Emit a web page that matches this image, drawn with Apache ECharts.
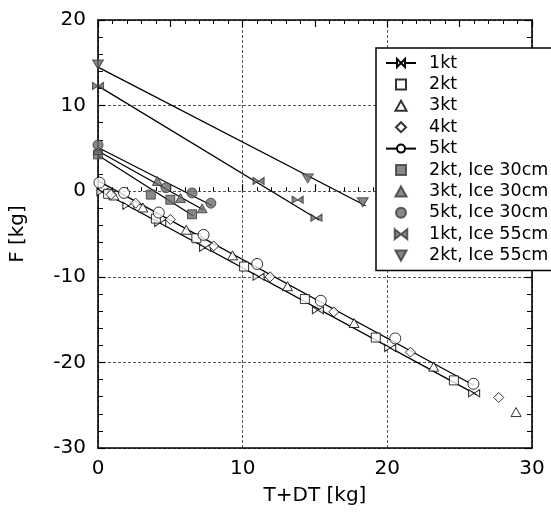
<!DOCTYPE html>
<html><head><meta charset="utf-8">
<script src="https://cdn.jsdelivr.net/npm/echarts@6/dist/echarts.min.js"></script>
<style>html,body{margin:0;padding:0;background:#fff}#c{width:551px;height:520px}</style>
</head><body><div id="c"></div>
<script>
// ---- data ----
const xTicks = [0, 10, 20, 30];
const yTicks = [-30, -20, -10, 0, 10, 20];
const legendNames = ['1kt','2kt','3kt','4kt','5kt','2kt, Ice 30cm','3kt, Ice 30cm','5kt, Ice 30cm','1kt, Ice 55cm','2kt, Ice 55cm'];

const kt1 = [[0.3,-0.1],[2.1,-1.7],[4.3,-3.7],[7.4,-6.6],[11.1,-10.0],[15.2,-13.9],[20.2,-18.3],[26.0,-23.6]];
const kt2 = [[0.7,-0.3],[4.0,-3.2],[6.8,-5.5],[10.1,-8.8],[14.3,-12.6],[19.2,-17.1],[24.6,-22.1]];
const kt3 = [[1.1,-0.5],[3.1,-1.9],[6.1,-4.5],[9.3,-7.5],[13.1,-11.1],[17.7,-15.4],[23.2,-20.5],[28.9,-25.8]];
const kt4 = [[0.9,-0.4],[2.6,-1.4],[5.0,-3.3],[8.0,-6.4],[11.9,-10.0],[16.3,-14.1],[21.6,-18.8],[27.7,-24.1]];
const kt5 = [[0.1,1.0],[1.8,-0.2],[4.2,-2.5],[7.3,-5.1],[11.0,-8.5],[15.4,-12.8],[20.55,-17.2],[25.95,-22.5]];

const kt2Ice30 = [[0,4.3],[3.65,-0.4],[5.0,-1.0],[6.5,-2.7]];
const kt3Ice30 = [[0,4.8],[4.1,1.2],[5.7,-0.8],[7.2,-2.0]];
const kt5Ice30 = [[0,5.4],[4.7,0.4],[6.5,-0.2],[7.8,-1.4]];
const kt1Ice55 = [[0,12.3],[11.1,1.2],[13.8,-1.0],[15.1,-3.1]];
const kt2Ice55 = [[0,14.8],[14.5,1.5],[18.3,-1.3]];

const fit1kt = [[0,0.2],[26.2,-23.8]];
const fit5kt = [[0,1.2],[26.0,-22.7]];
const fit2Ice30 = [[0,4.2],[6.6,-2.9]];
const fit3Ice30 = [[0,4.7],[7.3,-2.2]];
const fit5Ice30 = [[0,5.1],[7.9,-1.7]];
const fit1Ice55 = [[0,12.3],[15.3,-3.4]];
const fit2Ice55 = [[0,14.5],[18.5,-1.7]];

// ---- styling ----
const FONT = 'DejaVu Sans';
const BOWTIE = 'path://M0,0 L5,4 L0,8 Z M10,0 L5,4 L10,8 Z';
const INVTRI = 'path://M0,0 L10,0 L5,9 Z';
const SQUARE = 'path://M0,0 L10,0 L10,10 L0,10 Z';
const TRI = 'path://M5,0 L10,9 L0,9 Z';
const DIAMOND = 'path://M5,0 L10,5 L5,10 L0,5 Z';
const CIRCLE = 'path://M0,5 A5,5 0 1 1 10,5 A5,5 0 1 1 0,5 Z';
const openStyle = {color:'#fff', borderColor:'#000', borderWidth:1};
const fillStyle = {color:'#6a6a6a', borderColor:'#3a3a3a', borderWidth:1};

function fitLine(data){
  return {type:'line', data, showSymbol:false, symbol:'none', silent:true,
    lineStyle:{color:'#000', width:1.3}, z:1, animation:false};
}
function scat(name, data, symbol, size, style){
  return {name, type:'scatter', data, symbol, symbolSize:size, symbolKeepAspect:true,
    itemStyle:style, z:3, animation:false};
}

const chart = echarts.init(document.getElementById('c'), null, {renderer:'canvas'});
const tickAxisCommon = {
  min:0, max:30, interval:5, axisLine:{show:false}, axisLabel:{show:false}, splitLine:{show:false},
  axisTick:{show:true, inside:true, length:7, lineStyle:{color:'#000', width:1.2}},
  minorTick:{show:true, splitNumber:5, length:4, lineStyle:{color:'#000', width:1}}
};
chart.setOption({
  animation:false,
  backgroundColor:'#fff',
  grid:{left:97, top:20, right:19, bottom:72, show:false},
  legend:{
    orient:'vertical', left:376, top:48, width:174,
    data:legendNames,
    backgroundColor:'#fff', borderColor:'#000', borderWidth:1.5, borderRadius:0,
    padding:[6,6,6,9], itemGap:3.4, itemWidth:30, itemHeight:10, symbolKeepAspect:true,
    textStyle:{fontFamily:FONT, fontSize:17.5, color:'#000', lineHeight:17.5, padding:[0,0,0,8]},
    selectedMode:false
  },
  xAxis:[
    {type:'value', min:0, max:30, interval:10, position:'bottom',
      name:'T+DT [kg]', nameLocation:'middle', nameGap:38,
      nameTextStyle:{fontFamily:FONT, fontSize:20, color:'#000'},
      axisLine:{show:true, onZero:false, lineStyle:{color:'#000', width:1.6}},
      axisTick:{show:false},
      axisLabel:{fontFamily:FONT, fontSize:20, color:'#000', margin:11},
      splitLine:{show:true, lineStyle:{color:'#555', type:[3,2], width:1}}},
    Object.assign({type:'value', position:'bottom', gridIndex:0}, tickAxisCommon),
    Object.assign({type:'value', position:'top', gridIndex:0}, tickAxisCommon,
      {axisLine:{show:true, onZero:false, lineStyle:{color:'#000', width:1.6}}})
  ],
  yAxis:[
    {type:'value', min:-30, max:20, interval:10, position:'left',
      name:'F [kg]', nameLocation:'middle', nameGap:70, nameRotate:90,
      nameTextStyle:{fontFamily:FONT, fontSize:20, color:'#000'},
      axisLine:{show:true, onZero:false, lineStyle:{color:'#000', width:1.6}},
      axisTick:{show:true, inside:true, length:7, lineStyle:{color:'#000', width:1.2}},
      minorTick:{show:true, splitNumber:5, length:5, lineStyle:{color:'#000', width:1}},
      axisLabel:{fontFamily:FONT, fontSize:20, color:'#000', margin:12},
      splitLine:{show:true, lineStyle:{color:'#555', type:[3,2], width:1}}},
    {type:'value', min:-30, max:20, interval:10, position:'right',
      axisLine:{show:true, onZero:false, lineStyle:{color:'#000', width:1.6}},
      axisTick:{show:true, inside:true, length:7, lineStyle:{color:'#000', width:1.2}},
      minorTick:{show:true, splitNumber:5, length:5, lineStyle:{color:'#000', width:1}},
      axisLabel:{show:false}, splitLine:{show:false}}
  ],
  series:[
    {name:'1kt', type:'line', data:fit1kt, showSymbol:false, symbol:BOWTIE, symbolSize:[11,9],
      itemStyle:openStyle, lineStyle:{color:'#000', width:1.3}, z:1, animation:false},
    {name:'5kt', type:'line', data:fit5kt, showSymbol:false, symbol:'circle', symbolSize:11,
      itemStyle:openStyle, lineStyle:{color:'#000', width:1.3}, z:1, animation:false},
    fitLine(fit2Ice30), fitLine(fit3Ice30), fitLine(fit5Ice30),
    fitLine(fit1Ice55), fitLine(fit2Ice55),
    scat('1kt', kt1, BOWTIE, [11,9], openStyle),
    scat('2kt', kt2, SQUARE, 9, openStyle),
    scat('3kt', kt3, TRI, 10, openStyle),
    scat('4kt', kt4, DIAMOND, 10, openStyle),
    scat('5kt', kt5, CIRCLE, 11, openStyle),
    scat('2kt, Ice 30cm', kt2Ice30, SQUARE, 9, fillStyle),
    scat('3kt, Ice 30cm', kt3Ice30, TRI, 10, fillStyle),
    scat('5kt, Ice 30cm', kt5Ice30, CIRCLE, 10, fillStyle),
    scat('1kt, Ice 55cm', kt1Ice55, BOWTIE, [11,9], fillStyle),
    scat('2kt, Ice 55cm', kt2Ice55, INVTRI, [11,10], fillStyle)
  ]
});
</script></body></html>
